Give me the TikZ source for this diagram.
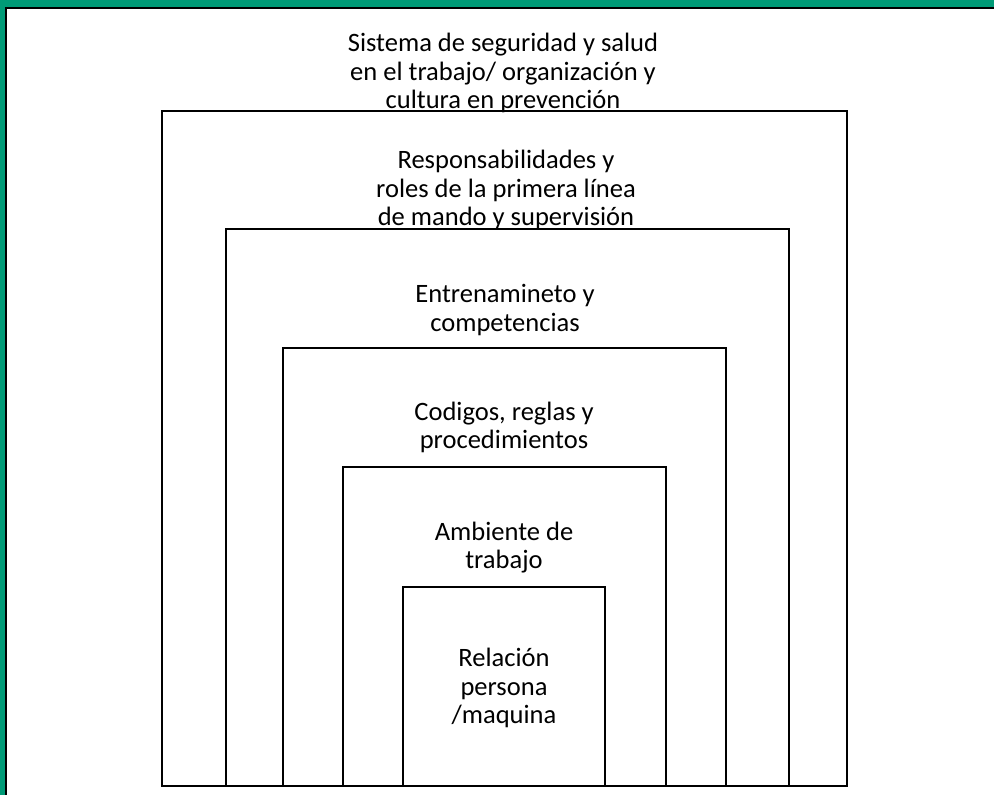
\documentclass[tikz,border=0pt]{standalone}
\usepackage{fontspec}
\setmainfont{Carlito}
\usepackage{xcolor}
\definecolor{framegreen}{RGB}{0,155,119}
\tikzset{
  layer/.style={line width=0.04cm, draw=black},
  layertext/.style={align=center, font=\fontsize{15.1}{16}\selectfont, inner sep=0pt}
}

\begin{document}
\begin{tikzpicture}
\useasboundingbox (0,0) rectangle (19.88,15.9);

% Frame: green band on top and left, black rule inside
\fill[framegreen] (0,0) rectangle (19.88,15.9);
\fill[white] (0.12,0) rectangle (19.88,15.74);
\draw[line width=0.04cm] (0.12,0) -- (0.12,15.74) -- (19.88,15.74);

% Nested layers, all sharing the same bottom edge
\draw[layer] (3.24,0.18) rectangle (16.94,13.68);
\draw[layer] (4.52,0.18) rectangle (15.78,11.32);
\draw[layer] (5.66,0.18) rectangle (14.52,8.94);
\draw[layer] (6.86,0.18) rectangle (13.32,6.56);
\draw[layer] (8.06,0.18) rectangle (12.10,4.16);

% Labels
\node[layertext] (sistema) at (10.06,14.44) {Sistema de seguridad y salud\\en el trabajo/ organización y\\cultura en prevención};
\node[layertext] (roles) at (10.12,12.10) {Responsabilidades y\\roles de la primera línea\\de mando y supervisión};
\node[layertext] (entrenamiento) at (10.10,9.70) {Entrenamineto y\\competencias};
\node[layertext] (codigos) at (10.08,7.36) {Codigos, reglas y\\procedimientos};
\node[layertext] (ambiente) at (10.08,4.94) {Ambiente de\\trabajo};
\node[layertext] (relacion) at (10.08,2.14) {Relación\\persona\\/maquina};
\end{tikzpicture}
\end{document}
